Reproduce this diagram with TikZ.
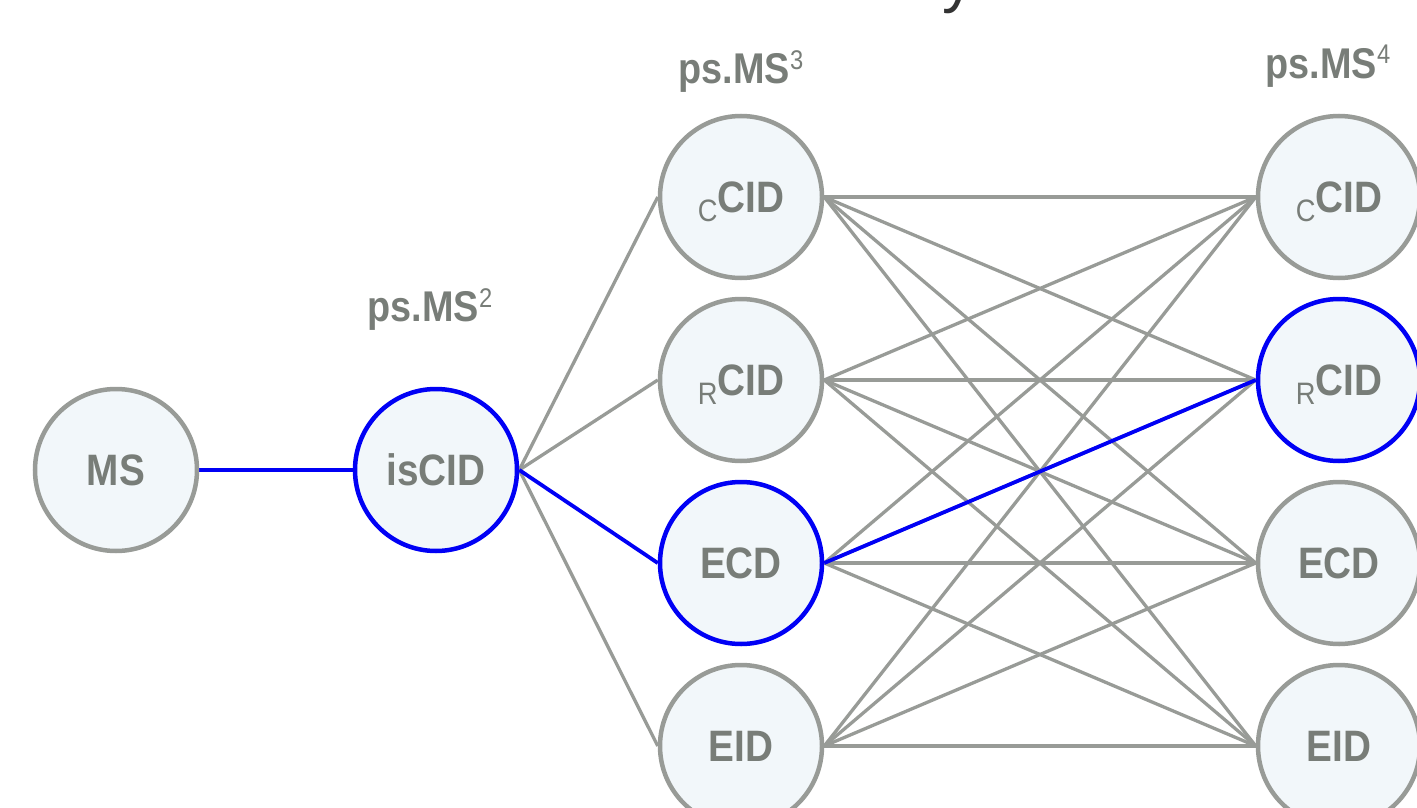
\documentclass[tikz,border=0pt]{standalone}
\usepackage{fontspec}
\setmainfont{Liberation Sans}
\newfontfamily\diagfont{Liberation Sans}[FakeStretch=0.88]
\usetikzlibrary{backgrounds}
\definecolor{edgegray}{RGB}{152,155,151}
\definecolor{txtgray}{RGB}{120,125,120}
\definecolor{nodefill}{RGB}{242,247,250}
\definecolor{hiblue}{RGB}{0,0,245}
\definecolor{titlegray}{RGB}{51,51,51}
\newcommand{\subC}[1]{\raisebox{-9pt}[0pt][0pt]{\mdseries\fontsize{31}{31}\selectfont #1}}
\newcommand{\supnum}[1]{\raisebox{14pt}{\mdseries\fontsize{27}{27}\selectfont #1}}
\begin{document}
\begin{tikzpicture}[x=1pt,y=-1pt,
  cnode/.style={circle, draw=edgegray, fill=nodefill, line width=4.5pt,
    minimum size=162pt, inner sep=0pt,
    font=\diagfont\bfseries\fontsize{44}{44}\selectfont, text=txtgray},
  hinode/.style={cnode, draw=hiblue},
  link/.style={draw=edgegray, line width=3.3pt},
  hilink/.style={draw=hiblue, line width=3.8pt},
  layerlabel/.style={anchor=base, font=\diagfont\bfseries\fontsize{43}{43}\selectfont, text=txtgray}]
\useasboundingbox (0,0) rectangle (1417,808);
% cut-off title
\node[anchor=base, inner sep=0pt, font=\fontsize{64}{64}\selectfont, text=titlegray] (titletail) at (958,1) {y};
% layer labels
\node[layerlabel] (lab2) at (430,321) {ps.MS\supnum{2}};
\node[layerlabel] (lab3) at (741,84) {ps.MS\supnum{3}};
\node[layerlabel] (lab4) at (1328,78) {ps.MS\supnum{4}};
% nodes
\node[cnode]  (ms)    at (116,470) {MS};
\node[hinode] (iscid) at (436,470) {isCID};
\node[cnode]  (c3c) at (741,197) {\subC{C}CID};
\node[cnode]  (c3r) at (741,380) {\subC{R}CID};
\node[hinode] (c3e) at (741,563) {ECD};
\node[cnode]  (c3i) at (741,746) {EID};
\node[cnode]  (c4c) at (1339,197) {\subC{C}CID};
\node[hinode] (c4r) at (1339,380) {\subC{R}CID};
\node[cnode]  (c4e) at (1339,563) {ECD};
\node[cnode]  (c4i) at (1339,746) {EID};
% connectors
\begin{scope}[on background layer]
  \foreach \b in {c3c,c3r,c3i}{\draw[link] (iscid.east) -- (\b.west);}
  \foreach \a in {c3c,c3r,c3e,c3i}{
    \foreach \b in {c4c,c4r,c4e,c4i}{\draw[link] (\a.east) -- (\b.west);}}
  \draw[hilink] (ms.east) -- (iscid.west);
  \draw[hilink] (iscid.east) -- (c3e.west);
  \draw[hilink] (c3e.east) -- (c4r.west);
\end{scope}
\end{tikzpicture}
\end{document}
